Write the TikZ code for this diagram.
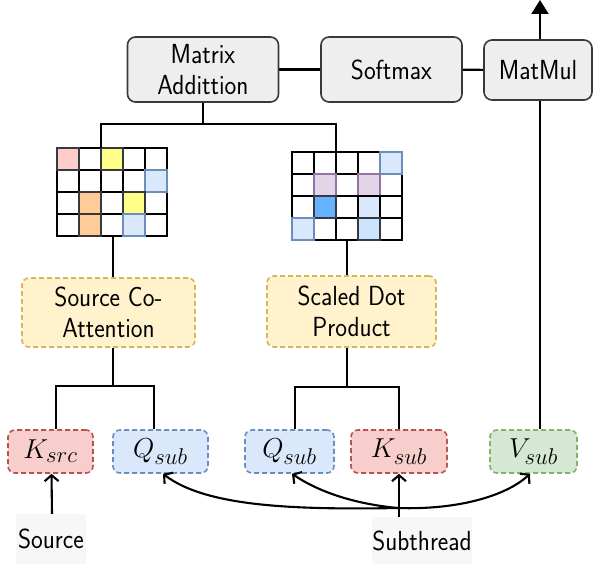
\documentclass[tikz,border=0pt]{standalone}
\usepackage{graphicx}
\usetikzlibrary{arrows.meta}
\definecolor{boxedge}{HTML}{36393D}
\definecolor{grayfill}{HTML}{EEEEEE}
\definecolor{yelfill}{HTML}{FFF2CC}
\definecolor{yeledge}{HTML}{D6B656}
\definecolor{redfill}{HTML}{F8CECC}
\definecolor{rededge}{HTML}{B85450}
\definecolor{bluefill}{HTML}{DAE8FC}
\definecolor{blueedge}{HTML}{6C8EBF}
\definecolor{greenfill}{HTML}{D5E8D4}
\definecolor{greenedge}{HTML}{82B366}
\definecolor{labelbg}{HTML}{F6F7F9}
\definecolor{cpink}{HTML}{FFCCCC}
\definecolor{cyellow}{HTML}{FFFF88}
\definecolor{corange}{HTML}{FFCC99}
\definecolor{cpurple}{HTML}{E1D5E7}
\definecolor{cpurpleedge}{HTML}{9673A6}
\definecolor{cblue}{HTML}{66B2FF}
\definecolor{clblue}{HTML}{CCE5FF}
\newcommand\dgtxt{\sffamily\fontsize{24}{31}\selectfont}
\newcommand\st[1]{\scalebox{1.04}[1.15]{#1}}
\newcommand\dgm[1]{\scalebox{1.1}{\fontsize{24.88}{30}\selectfont$#1$}}
\begin{document}
\begin{tikzpicture}[x=1pt,y=-1pt,
  graybox/.style={draw=boxedge, fill=grayfill, rounded corners=8pt, line width=1.6pt,
    font=\dgtxt, align=center, inner sep=0pt},
  dashbox/.style={rounded corners=7pt, line width=1.6pt, dash pattern=on 5pt off 3pt,
    inner sep=0pt, align=center},
  yelbox/.style={dashbox, draw=yeledge, fill=yelfill, font=\dgtxt},
  redbox/.style={dashbox, draw=rededge, fill=redfill},
  bluebox/.style={dashbox, draw=blueedge, fill=bluefill},
  greenbox/.style={dashbox, draw=greenedge, fill=greenfill},
  lbl/.style={fill=labelbg, font=\dgtxt, inner sep=0pt},
  conn/.style={line width=2.1pt, draw=black},
  barb/.style={-{Straight Barb[length=6pt,width=14pt,line width=2.1pt]}},
  gridbox/.style={inner sep=0pt, minimum width=110pt, minimum height=88pt},
  cell/.style={line width=1.6pt}
]
\useasboundingbox (0,0) rectangle (593,564);

% top row
\node[graybox, minimum width=151pt, minimum height=65pt] (ma) at (203,69.5) {\st{Matrix}\\\st{Addittion}};
\node[graybox, minimum width=141pt, minimum height=65pt] (sm) at (391.5,69.5) {\st{Softmax}};
\node[graybox, minimum width=108pt, minimum height=60pt] (mm) at (538,70) {\st{MatMul}};

% grids
\node[gridbox] (gridL) at (112,192) {};
\node[gridbox] (gridR) at (347,196) {};
\foreach \g in {gridL,gridR}{
  \foreach \c in {0,...,4}{
    \foreach \r in {0,...,3}{
      \draw[line width=2.2pt, fill=white] ([xshift=\c*22pt, yshift=-\r*22pt]\g.north west)
        rectangle ++(22,22);
    }
  }
}
\foreach \c/\r/\f/\e in {0/0/cpink/boxedge, 2/0/cyellow/boxedge, 4/1/bluefill/blueedge,
  1/2/corange/boxedge, 3/2/cyellow/boxedge, 1/3/corange/boxedge, 3/3/bluefill/blueedge}{
  \draw[cell, fill=\f, draw=\e] ([xshift=\c*22pt, yshift=-\r*22pt]gridL.north west) rectangle ++(22,22);
}
\foreach \c/\r/\f/\e in {4/0/bluefill/blueedge, 1/1/cpurple/cpurpleedge, 3/1/cpurple/cpurpleedge,
  1/2/cblue/boxedge, 3/2/bluefill/black, 0/3/bluefill/blueedge, 3/3/clblue/boxedge}{
  \draw[cell, fill=\f, draw=\e] ([xshift=\c*22pt, yshift=-\r*22pt]gridR.north west) rectangle ++(22,22);
}

% attention boxes
\node[yelbox, minimum width=173pt, minimum height=69pt] (sca) at (108.5,312.5) {\st{Source Co-}\\\st{Attention}};
\node[yelbox, minimum width=169pt, minimum height=71pt] (sdp) at (351.5,311.5) {\st{Scaled Dot}\\\st{Product}};

% input boxes
\node[redbox, minimum width=85pt, minimum height=43pt] (ksrc) at (50.5,451.5) {\dgm{K_{src}}};
\node[bluebox, minimum width=95pt, minimum height=43pt] (q1) at (160.5,451.5) {\dgm{Q_{sub}}};
\node[bluebox, minimum width=89pt, minimum height=43pt] (q2) at (289.5,451.5) {\dgm{Q_{sub}}};
\node[redbox, minimum width=96pt, minimum height=43pt] (ksub) at (399,451.5) {\dgm{K_{sub}}};
\node[greenbox, minimum width=87pt, minimum height=43pt] (vsub) at (533.5,451.5) {\dgm{V_{sub}}};

% labels
\node[lbl, minimum width=70pt, minimum height=50pt] (srcl) at (51,539) {\raisebox{-4pt}{\st{Source}}};
\node[lbl, minimum width=100pt, minimum height=47pt] (subl) at (422,540.5) {\raisebox{-5pt}{\st{Subthread}}};

% coordinates
\coordinate (jt) at (203,124);
\coordinate (jl) at (113,386);
\coordinate (jr) at (347,387);
\coordinate (topend) at (540,0);
\coordinate (S) at (398,508);

% top connectors
\draw[conn] (ma) -- (sm);
\draw[conn] (sm) -- (mm);
\draw[conn, -{Triangle[length=14pt,width=17pt]}] (topend |- mm.north) -- (topend);
\draw[conn] (ma.south) -- (jt);
\draw[conn] ([xshift=-11pt]gridL.north) |- (jt) -| ([xshift=-11pt]gridR.north);

% left branch
\draw[conn] ([xshift=1pt]gridL.south) -- ([xshift=1pt]gridL.south |- sca.north);
\draw[conn] ([xshift=1pt]gridL.south |- sca.south) -- (jl);
\draw[conn] ([xshift=5.5pt]ksrc.north) |- (jl) -| ([xshift=-6.5pt]q1.north);

% right branch
\draw[conn] (gridR.south) -- (gridR.south |- sdp.north);
\draw[conn] (gridR.south |- sdp.south) -- (jr);
\draw[conn] ([xshift=5.5pt]q2.north) |- (jr) -| (ksub.north);

% V to MatMul
\draw[conn] ([xshift=6.5pt]vsub.north) -- ([xshift=6.5pt]vsub.north |- mm.south);

% input arrows
\draw[conn, barb] ([xshift=1pt]srcl.north) -- ([xshift=1pt]ksrc.south);
\draw[conn, barb] (ksub.south |- subl.north) -- (ksub.south);

% curves
\draw[conn, barb] (S) .. controls (290,510) and (205,506) .. ([xshift=2.5pt]q1.south);
\draw[conn, barb] (S) .. controls (365,505) and (325,496) .. ([xshift=2.5pt]q2.south);
\draw[conn, barb] (S) .. controls (455,510) and (505,497) .. ([xshift=-3.5pt]vsub.south);
\end{tikzpicture}
\end{document}
